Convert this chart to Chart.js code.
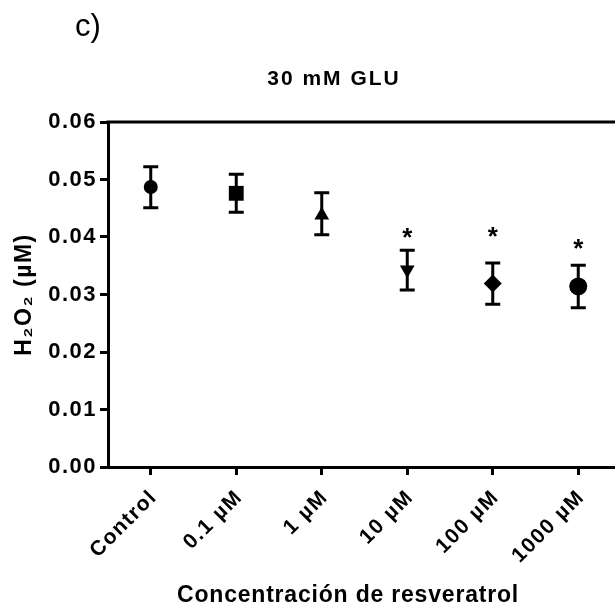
<!DOCTYPE html>
<html>
<head>
<meta charset="utf-8">
<script src="https://cdn.jsdelivr.net/npm/chart.js@4.4.0/dist/chart.umd.min.js"></script>
<style>
  html, body { margin: 0; padding: 0; background: #fff; overflow: hidden; }
  #wrap { width: 621px; height: 613px; position: relative; }
</style>
</head>
<body>
<div id="wrap"><canvas id="glu_Chart"></canvas></div>
<script>
// H2O2 vs resveratrol concentration, 30 mM GLU
var labels = ['Control', '0.1 µM', '1 µM', '10 µM', '100 µM', '1000 µM'];
var mean_h2o2 = [0.0487, 0.0476, 0.0438, 0.0343, 0.0319, 0.0314];
var err_upper = [0.0522, 0.0509, 0.0477, 0.0377, 0.0355, 0.0351];
var err_lower = [0.0451, 0.0443, 0.0404, 0.0308, 0.0283, 0.0277];
var star_pos = [null, null, null, 0.0397, 0.0399, 0.0378];
var y_ticks = [0, 0.01, 0.02, 0.03, 0.04, 0.05, 0.06];

var marker_style = ['circle', 'rect', 'triangle', 'triangle', 'rectRot', 'circle'];
var marker_rot = [0, 0, 0, 180, 0, 0];
var marker_size = [7, 10.5, 8.5, 8.5, 9, 9];

var FONT = '"Liberation Sans", Arial, sans-serif';

// wider letters for the axis text (context state resets on resize)
var spacing = {
    id: 'spacing',
    beforeLayout: function(chart) { chart.ctx.letterSpacing = '1.5px'; },
    beforeDraw: function(chart) { chart.ctx.letterSpacing = '1.5px'; }
};

// error bars, stars, frame and titles
var extras = {
    id: 'extras',
    afterDatasetsDraw: function(chart) {
        var ctx = chart.ctx;
        var x = chart.scales.x, y = chart.scales.y;
        var area = chart.chartArea;
        ctx.save();
        ctx.strokeStyle = '#000';
        ctx.lineWidth = 3;
        ctx.beginPath();
        ctx.moveTo(area.left - 1.5, area.top);
        ctx.lineTo(area.right, area.top);
        ctx.stroke();

        for (var i = 0; i < labels.length; i++) {
            var px = x.getPixelForValue(i);
            var top = y.getPixelForValue(err_upper[i]);
            var bot = y.getPixelForValue(err_lower[i]);
            ctx.lineWidth = 3;
            ctx.beginPath();
            ctx.moveTo(px, top); ctx.lineTo(px, bot);
            ctx.moveTo(px - 7.5, top); ctx.lineTo(px + 7.5, top);
            ctx.moveTo(px - 7.5, bot); ctx.lineTo(px + 7.5, bot);
            ctx.stroke();
            if (star_pos[i] !== null) {
                ctx.fillStyle = '#000';
                ctx.letterSpacing = '0px';
                ctx.font = 'bold 26px ' + FONT;
                ctx.textAlign = 'center';
                ctx.textBaseline = 'middle';
                ctx.fillText('*', px, y.getPixelForValue(star_pos[i]));
            }
        }

        ctx.fillStyle = '#000';
        ctx.textBaseline = 'alphabetic';
        ctx.textAlign = 'center';
        ctx.letterSpacing = '2px';
        ctx.font = 'bold 21px ' + FONT;
        ctx.fillText('30 mM GLU', 334, 85);

        ctx.letterSpacing = '0.8px';
        ctx.font = 'bold 23px ' + FONT;
        ctx.fillText('Concentración de resveratrol', 348, 602);

        ctx.letterSpacing = '0px';
        ctx.textAlign = 'left';
        ctx.font = '31px ' + FONT;
        ctx.fillText('c)', 75, 36);
        ctx.restore();
    }
};

var glu_chart = new Chart(document.getElementById('glu_Chart'), {
    type: 'line',
    data: {
        labels: labels,
        datasets: [{
            data: mean_h2o2,
            showLine: false,
            pointStyle: marker_style,
            rotation: marker_rot,
            pointRadius: marker_size,
            pointHoverRadius: marker_size,
            backgroundColor: '#000',
            borderColor: '#000',
            borderWidth: 0,
        }]
    },
    options: {
        responsive: true,
        maintainAspectRatio: false,
        animation: false,
        layout: {
            autoPadding: false,
            padding: { top: 122, right: 0, left: 0, bottom: 0 }
        },
        plugins: {
            legend: { display: false },
            tooltip: { enabled: false },
        },
        scales: {
            x: {
                type: 'category',
                offset: true,
                grid: {
                    display: true,
                    drawOnChartArea: false,
                    drawTicks: true,
                    tickLength: 8,
                    lineWidth: 3,
                    color: '#000'
                },
                border: { display: true, color: '#000', width: 3 },
                ticks: {
                    color: '#000',
                    minRotation: 45,
                    maxRotation: 45,
                    padding: 10,
                    labelOffset: 3,
                    font: { family: FONT, size: 21, weight: 'bold' }
                },
                afterFit: function(scale) {
                    scale.height = 146;
                    scale.paddingLeft = 0;
                    scale.paddingRight = 0;
                }
            },
            y: {
                min: 0,
                max: 0.06,
                afterBuildTicks: function(scale) {
                    scale.ticks = y_ticks.map(function(v) { return { value: v }; });
                },
                grid: {
                    display: true,
                    drawOnChartArea: false,
                    drawTicks: true,
                    tickLength: 8,
                    lineWidth: 3,
                    color: '#000'
                },
                border: { display: true, color: '#000', width: 3 },
                ticks: {
                    color: '#000',
                    padding: 3,
                    callback: function(v) { return v.toFixed(2); },
                    font: { family: FONT, size: 22, weight: 'bold' }
                },
                title: {
                    display: true,
                    text: 'H₂O₂ (µM)',
                    color: '#000',
                    padding: { top: 11, bottom: 0 },
                    font: { family: FONT, size: 23, weight: 'bold' }
                },
                afterFit: function(scale) {
                    scale.width = 108;
                    scale.paddingTop = 0;
                    scale.paddingBottom = 0;
                }
            }
        }
    },
    plugins: [spacing, extras]
});
</script>
</body>
</html>
